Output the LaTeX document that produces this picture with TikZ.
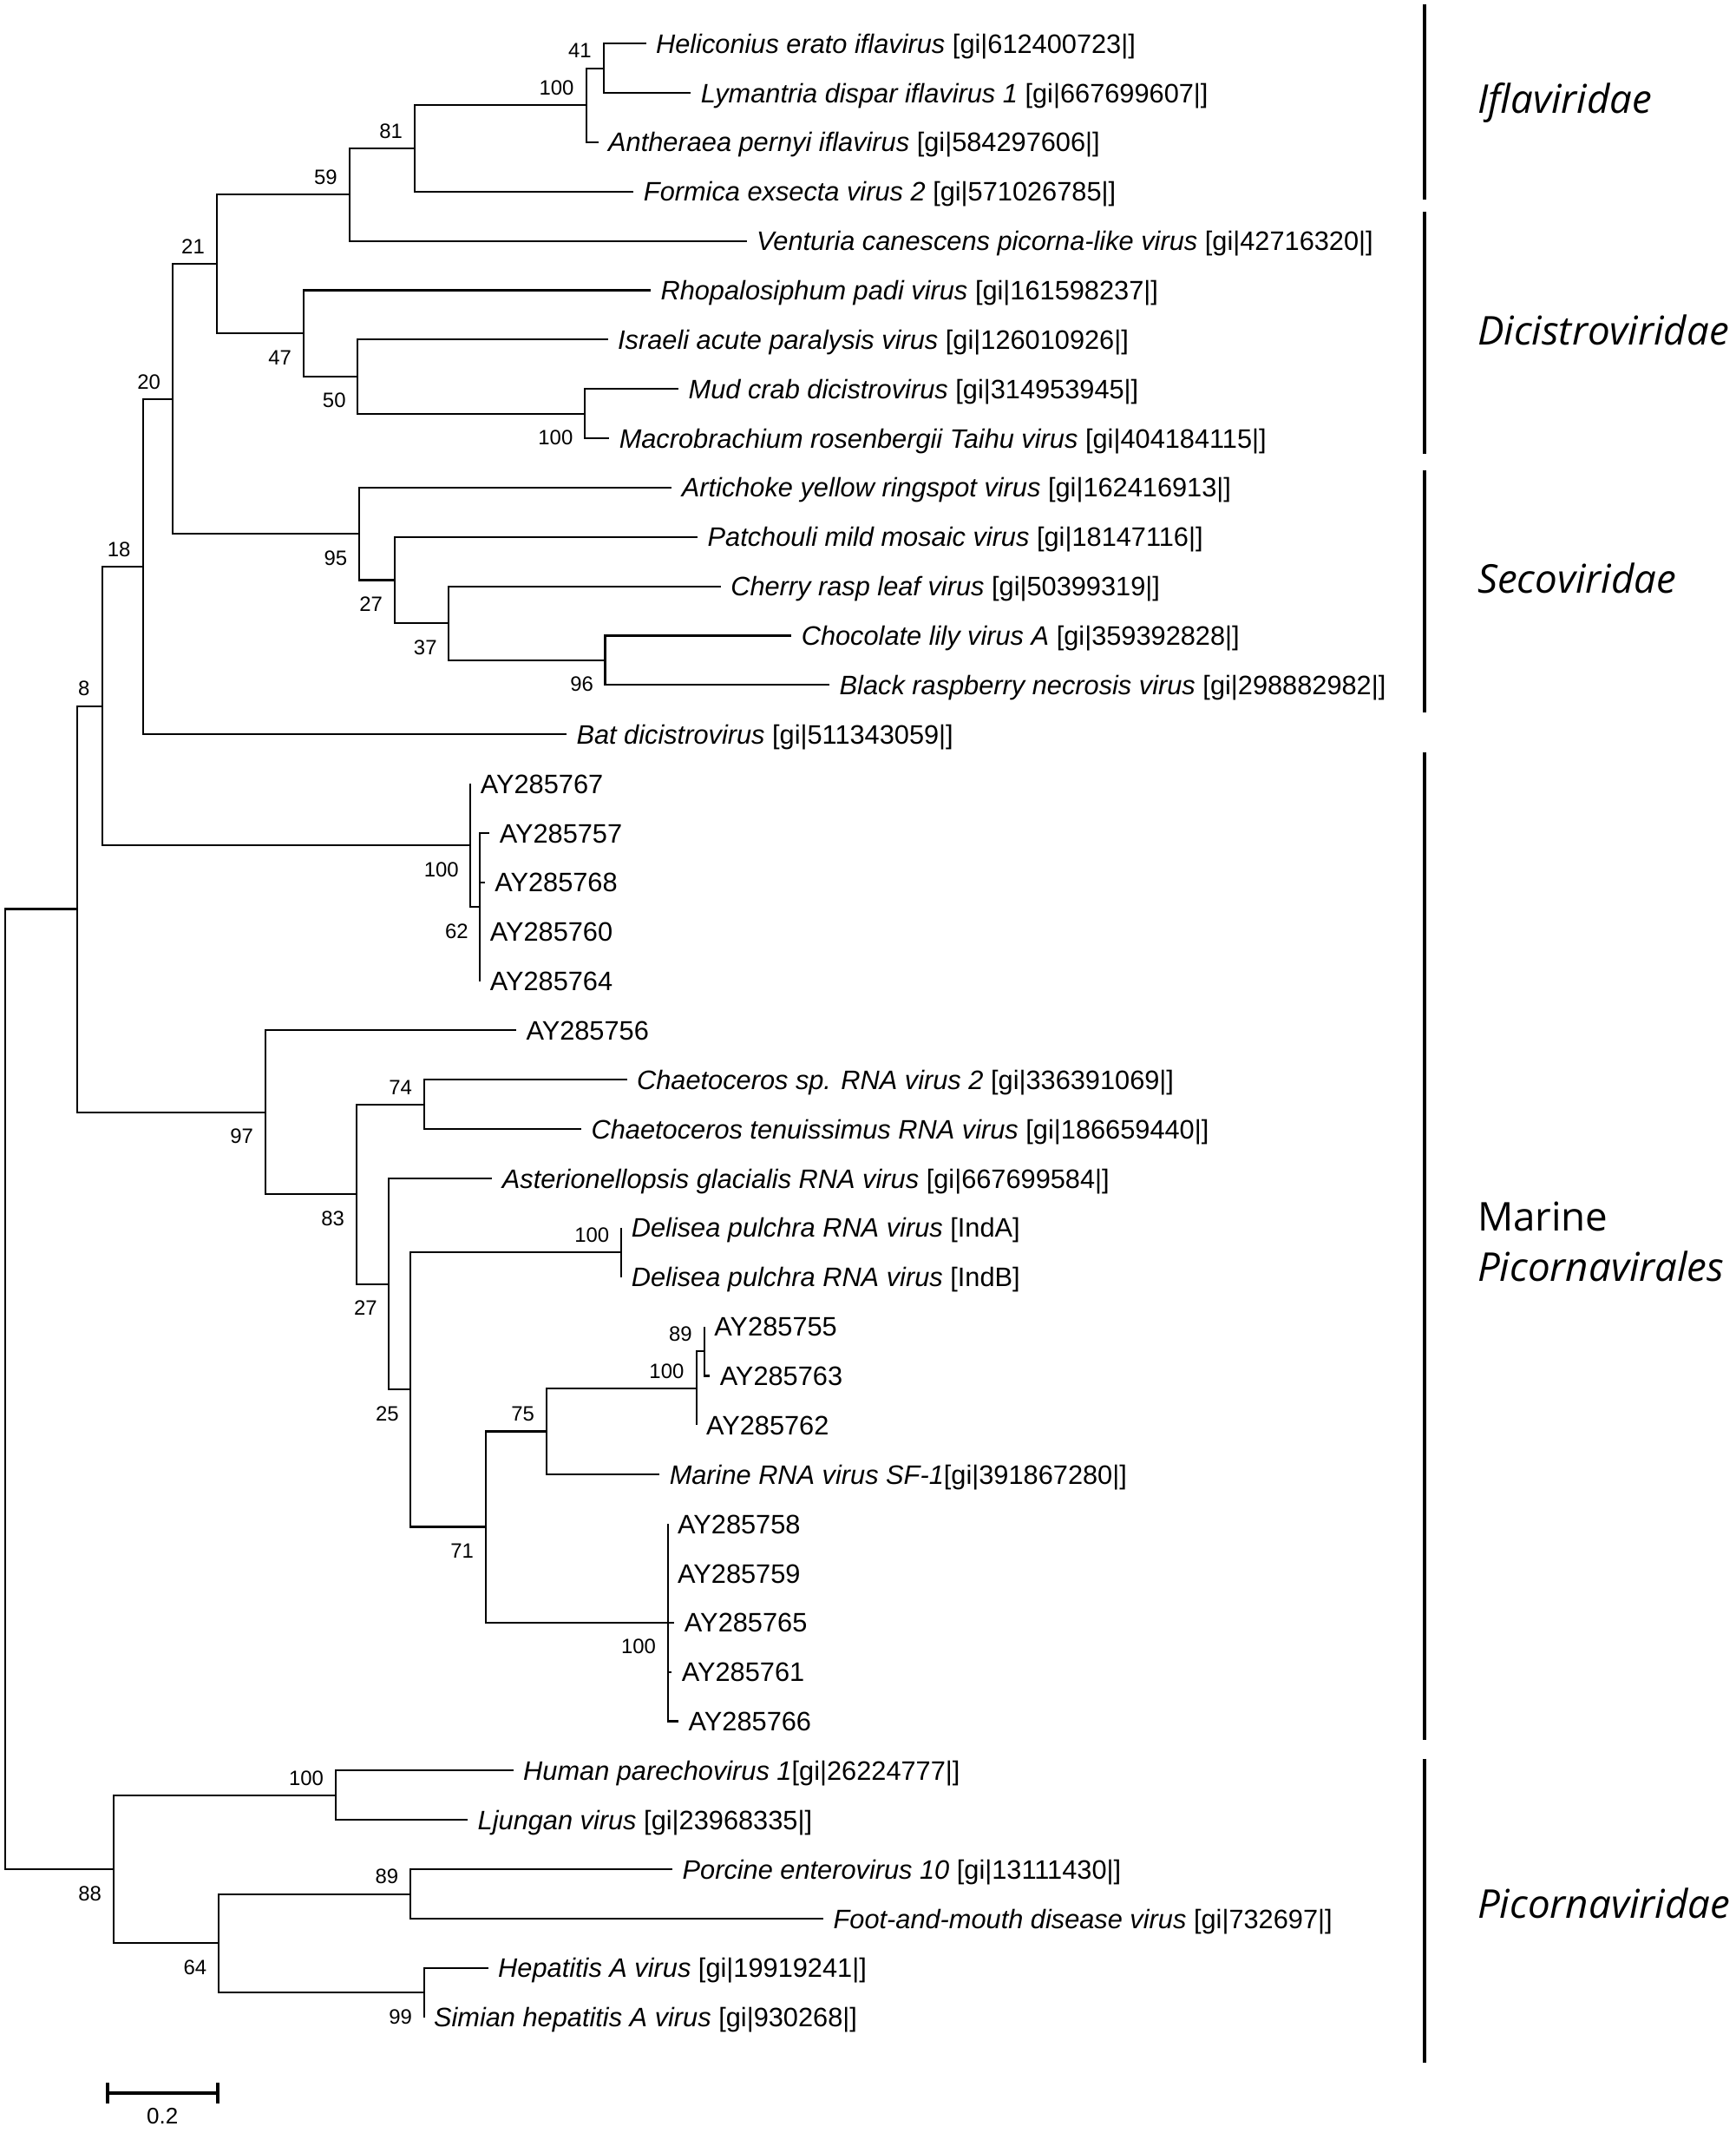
\documentclass[tikz,border=0pt]{standalone}
\usepackage{fontspec}
\setmainfont{Liberation Sans}
\newfontfamily\famfont{Open Sans}
\usepackage{tikz}
\usetikzlibrary{positioning}

\begin{document}
\begin{tikzpicture}[
      x=0.15674mm, y=-5.6858mm,
      branch/.style={
         line width=0.6pt,
         line join=miter},
      leaf/.style={
         anchor=west,
         inner xsep=1.15mm,
         inner ysep=0pt,
         outer sep=0pt,
         text height=6.3pt,
         text depth=0pt,
         font=\fontsize{8.75pt}{10pt}\selectfont},
      bsnum/.style={
         inner sep=0pt,
         text height=4.9pt,
         text depth=0pt,
         font=\fontsize{6.8pt}{8pt}\selectfont},
      bsup/.style={
         bsnum,
         anchor=south east,
         xshift=-1.35mm, yshift=1.1mm},
      bsdn/.style={
         bsnum,
         anchor=north east,
         xshift=-1.3mm, yshift=-1.8mm},
      famlabel/.style={
         anchor=west,
         inner sep=0pt,
         text height=9.3pt,
         text depth=0pt,
         font=\famfont\fontsize{13pt}{15pt}\selectfont\itshape},
      fambar/.style={
         line width=1.15pt},
      scalebar/.style={
         line width=1.15pt},
      ]
      \useasboundingbox (0,-0.882) rectangle (1276,42.344);

      % leaves
      \foreach \nm/\xx/\row/\txt in {%
        hel/475/0/{\textit{Heliconius erato iflavirus} [gi|612400723|]},
        lym/508/1/{\textit{Lymantria dispar iflavirus 1} [gi|667699607|]},
        ant/440/2/{\textit{Antheraea pernyi iflavirus} [gi|584297606|]},
        form/466/3/{\textit{Formica exsecta virus 2} [gi|571026785|]},
        vent/549/4/{\textit{Venturia canescens picorna-like virus} [gi|42716320|]},
        rhop/478.5/5/{\textit{Rhopalosiphum padi virus} [gi|161598237|]},
        isr/447/6/{\textit{Israeli acute paralysis virus} [gi|126010926|]},
        mud/499/7/{\textit{Mud crab dicistrovirus} [gi|314953945|]},
        macro/448/8/{\textit{Macrobrachium rosenbergii Taihu virus} [gi|404184115|]},
        arti/494/9/{\textit{Artichoke yellow ringspot virus} [gi|162416913|]},
        patch/513/10/{\textit{Patchouli mild mosaic virus} [gi|18147116|]},
        cherry/530/11/{\textit{Cherry rasp leaf virus} [gi|50399319|]},
        choc/582/12/{\textit{Chocolate lily virus A} [gi|359392828|]},
        brn/610/13/{\textit{Black raspberry necrosis virus} [gi|298882982|]},
        bat/416.6/14/{\textit{Bat dicistrovirus} [gi|511343059|]},
        ay67/346/15/AY285767,
        ay57/360/16/AY285757,
        ay68/356.5/17/AY285768,
        ay60/353/18/AY285760,
        ay64/353/19/AY285764,
        ay56/379.6/20/AY285756,
        chsp/461/21/{\textit{Chaetoceros sp. RNA virus 2} [gi|336391069|]},
        chten/427.5/22/{\textit{Chaetoceros tenuissimus RNA virus} [gi|186659440|]},
        ast/362/23/{\textit{Asterionellopsis glacialis RNA virus} [gi|667699584|]},
        dela/457/24/{\textit{Delisea pulchra RNA virus} [IndA]},
        delb/457/25/{\textit{Delisea pulchra RNA virus} [IndB]},
        ay55/518/26/AY285755,
        ay63/522/27/AY285763,
        ay62/512/28/AY285762,
        sf/485/29/{\textit{Marine RNA virus SF-1}[gi|391867280|]},
        ay58/491/30/AY285758,
        ay59/491/31/AY285759,
        ay65/496/32/AY285765,
        ay61/494/33/AY285761,
        ay66/499/34/AY285766,
        hpev/377.5/35/{\textit{Human parechovirus 1}[gi|26224777|]},
        ljv/344/36/{\textit{Ljungan virus} [gi|23968335|]},
        pev/494.5/37/{\textit{Porcine enterovirus 10} [gi|13111430|]},
        fmdv/605.5/38/{\textit{Foot-and-mouth disease virus} [gi|732697|]},
        hav/359/39/{\textit{Hepatitis A virus} [gi|19919241|]},
        shav/311.7/40/{\textit{Simian hepatitis A virus} [gi|930268|]}}
        \node[leaf] (\nm) at (\xx,\row) {\txt};

      % inner nodes
      \coordinate (root) at (4,27.27);
      \coordinate (nA) at (57,17.54);
      \coordinate (n8) at (75,13.426);
      \coordinate (n18) at (105,10.602);
      \coordinate (n20) at (127,7.203);
      \coordinate (n21) at (159.5,4.469);
      \coordinate (n59) at (257,3.063);
      \coordinate (n81) at (305,2.125);
      \coordinate (n100a) at (431,1.25);
      \coordinate (n41) at (444,0.5);
      \coordinate (n47) at (223,5.875);
      \coordinate (n50) at (263,6.75);
      \coordinate (n100b) at (430,7.5);
      \coordinate (n95) at (264,9.938);
      \coordinate (n27a) at (290,10.875);
      \coordinate (n37) at (330,11.75);
      \coordinate (n96) at (445,12.5);
      % marine
      \coordinate (n100c) at (346,16.25);
      \coordinate (n62) at (353,17.5);
      \coordinate (n97) at (195,21.66);
      \coordinate (n83) at (262,23.32);
      \coordinate (n74) at (312,21.5);
      \coordinate (n27b) at (286,25.14);
      \coordinate (n100d) at (457,24.5);
      \coordinate (n25) at (302,27.28);
      \coordinate (n71) at (357,30.06);
      \coordinate (n75) at (402,28.125);
      \coordinate (n100e) at (512,27.25);
      \coordinate (n89a) at (518,26.5);
      \coordinate (n100f) at (491,32);
      % picornaviridae
      \coordinate (n88) at (83.4,37);
      \coordinate (n100g) at (247,35.5);
      \coordinate (n64) at (160.7,38.5);
      \coordinate (n89b) at (302,37.5);
      \coordinate (n99) at (311.7,39.5);

      \foreach \p/\c in {% parent/child
        root/nA, root/n88, nA/n8, nA/n97, n8/n18, n8/n100c,
        n18/n20, n20/n21, n20/n95, n21/n59, n21/n47, n59/n81,
        n81/n100a, n100a/n41, n47/n50, n50/n100b, n95/n27a,
        n27a/n37, n37/n96, n100c/n62, n97/n83, n83/n74, n83/n27b,
        n27b/n25, n25/n100d, n25/n71, n71/n75, n71/n100f,
        n75/n100e, n100e/n89a, n88/n100g, n88/n64, n64/n89b, n64/n99}
        \draw[branch] (\p) |- (\c);

      \foreach \p/\c in {% parent/leaf
        n41/hel, n41/lym, n100a/ant, n81/form, n59/vent, n47/rhop,
        n50/isr, n100b/mud, n100b/macro, n95/arti, n27a/patch,
        n37/cherry, n96/choc, n96/brn, n18/bat, n100c/ay67, n62/ay57,
        n62/ay68, n62/ay60, n62/ay64, n97/ay56, n74/chsp, n74/chten,
        n27b/ast, n100d/dela, n100d/delb, n89a/ay55, n89a/ay63,
        n100e/ay62, n75/sf, n100f/ay58, n100f/ay59, n100f/ay65,
        n100f/ay61, n100f/ay66, n100g/hpev, n100g/ljv, n89b/pev,
        n89b/fmdv, n99/hav, n99/shav}
        \draw[branch] (\p) |- (\c.west);

      % bootstrap values
      \foreach \n/\v/\s in {%
        n41/41/bsup, n100a/100/bsup, n81/81/bsup, n59/59/bsup,
        n21/21/bsup, n20/20/bsup, n18/18/bsup, n8/8/bsup,
        n47/47/bsdn, n50/50/bsdn, n100b/100/bsdn, n95/95/bsdn,
        n27a/27/bsdn, n37/37/bsdn, n96/96/bsdn, n100c/100/bsdn,
        n62/62/bsdn, n97/97/bsdn, n74/74/bsup, n83/83/bsdn,
        n27b/27/bsdn, n100d/100/bsup, n25/25/bsdn, n75/75/bsup,
        n100e/100/bsup, n89a/89/bsup, n71/71/bsdn, n100f/100/bsdn,
        n100g/100/bsup, n88/88/bsdn, n89b/89/bsup, n64/64/bsdn,
        n99/99/bsdn}
        \node[\s] (bs\n) at (\n) {\v};

      % family bars
      \foreach \nm/\ya/\yb in {ifl/-0.80/3.157, dic/3.407/8.317,
        sec/8.656/13.563, mar/14.363/34.376, pic/34.76/40.92}{
        \coordinate (\nm top) at (1047.5,\ya);
        \coordinate (\nm bot) at (1047.5,\yb);
        \draw[fambar] (\nm top) -- (\nm bot);
      }
      \node[famlabel] (ifl) at (1086,1.13) {Iflaviridae};
      \node[famlabel] (dic) at (1086,5.82) {Dicistroviridae};
      \node[famlabel] (sec) at (1086,10.85) {Secoviridae};
      \node[famlabel] (mar) at (1086,23.78) {\upshape Marine};
      \node[famlabel] (picv) at (1086,24.80) {Picornavirales};
      \node[famlabel] (picd) at (1086,37.71) {Picornaviridae};

      % scale bar
      \coordinate (sbl) at (79.3,41.535);
      \coordinate (sbr) at (160.1,41.535);
      \draw[scalebar] (sbl) -- (sbr);
      \draw[scalebar] ([yshift=1.18mm]sbl) -- ([yshift=-1.18mm]sbl);
      \draw[scalebar] ([yshift=1.18mm]sbr) -- ([yshift=-1.18mm]sbr);
      \node[bsnum, font=\fontsize{7.4pt}{8pt}\selectfont] (sbval) at (119.5,42.0) {0.2};
\end{tikzpicture}
\end{document}
